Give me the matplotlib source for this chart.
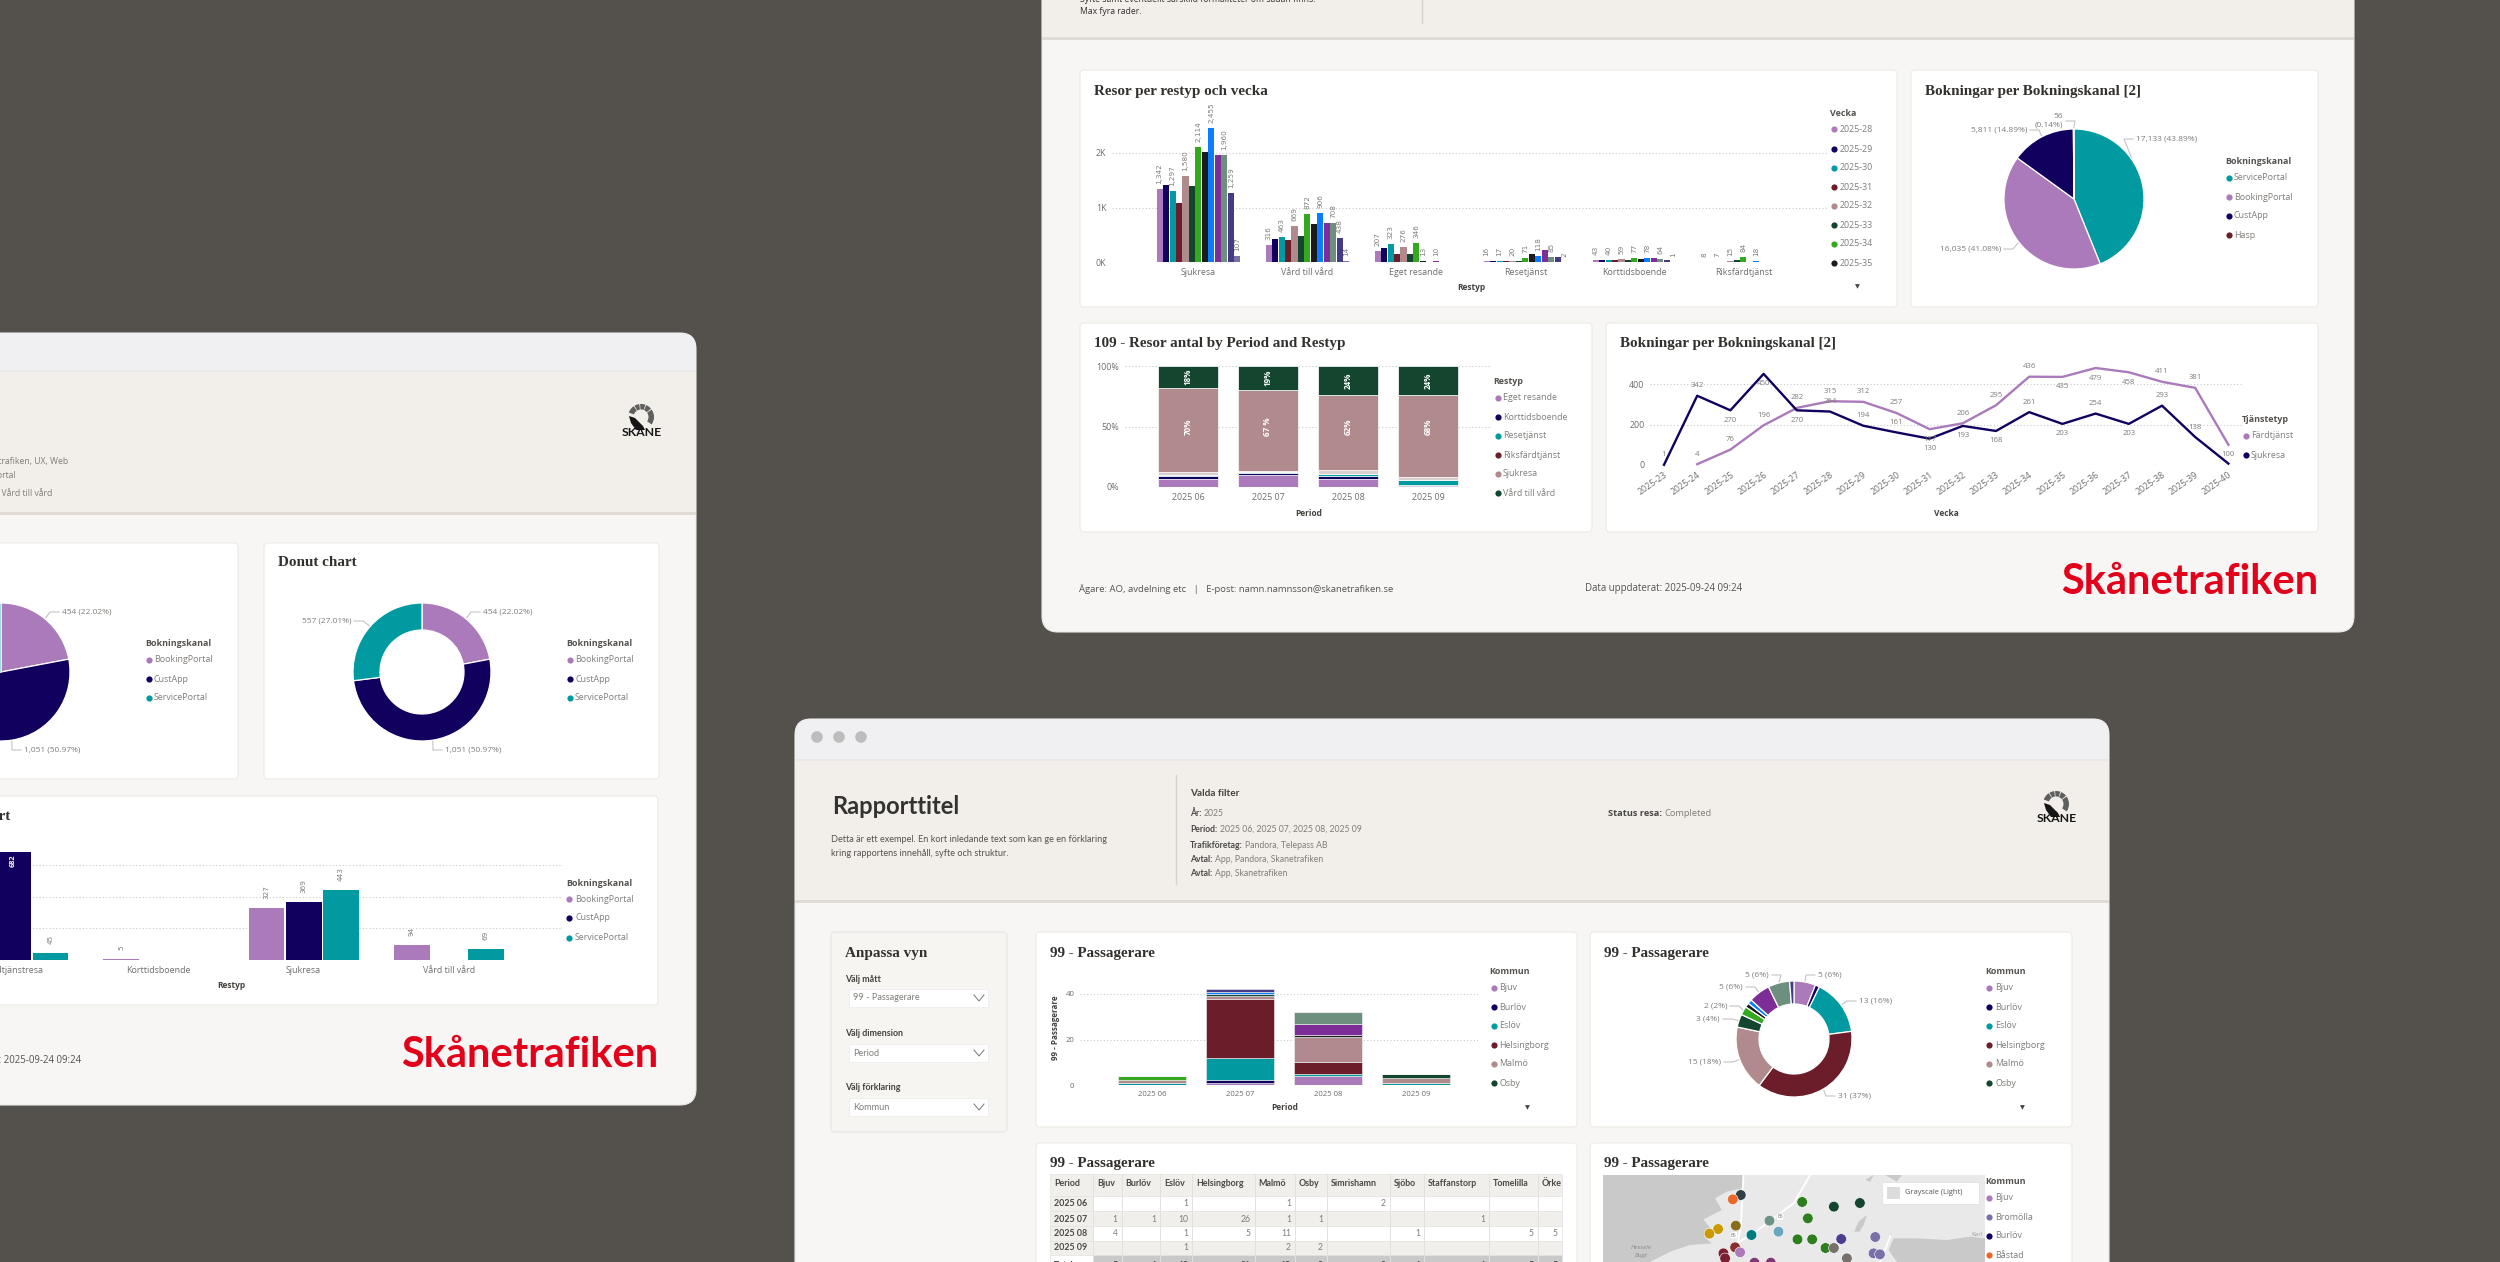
# Skånetrafiken report mockups, three windows on a dark background

import matplotlib
matplotlib.use('Agg')
import numpy as np
import matplotlib.pyplot as plt
from matplotlib.patches import FancyBboxPatch, Rectangle, Wedge, Polygon, Circle

plt.rcParams['font.family'] = ['Open Sans', 'DejaVu Sans']

W, H = 2500, 1262

# palette used by the report
PURPLE = '#ab7abb'
NAVY = '#12005e'
TEAL = '#009aa0'
MAROON = '#6b1d2a'
MAUVE = '#b08a8c'
DGREEN = '#14452f'
GREEN = '#34a91f'
BLACK = '#1b1b1b'
BLUE = '#0a7cff'
VIOLET = '#7d2e96'
SAGE = '#6f8f7e'
INDIGO = '#463a85'
SLATE = '#7a70a8'
ORANGE = '#e8692a'
week_colors = [PURPLE, NAVY, TEAL, MAROON, MAUVE, DGREEN, GREEN, BLACK, BLUE, VIOLET, SAGE, INDIGO, SLATE]

# grouped bars, top window
restyp = ['Sjukresa', 'Vård till vård', 'Eget resande', 'Resetjänst', 'Korttidsboende', 'Riksfärdtjänst']
weeks_shown = ['2025-28', '2025-29', '2025-30', '2025-31', '2025-32', '2025-33', '2025-34', '2025-35']
sjukresa = [1342, 1420, 1297, 1080, 1580, 1400, 2114, 2010, 2455, 1962, 1960, 1259, 107]
vard = [316, 430, 463, 395, 669, 480, 872, 690, 906, 708, 708, 438, 14]
eget = [207, 250, 323, 155, 276, 140, 346, 13, 8, 10, 4, 0, 0]
reset = [16, 14, 17, 12, 20, 10, 71, 150, 118, 220, 85, 100, 2]
kort = [43, 45, 40, 30, 59, 40, 77, 60, 78, 70, 64, 35, 1]
riks = [8, 6, 7, 5, 15, 40, 84, 3, 18, 2, 0, 0, 0]
week_values = [sjukresa, vard, eget, reset, kort, riks]
# which bars carry a value label in the original
labelled = [[0, 2, 4, 6, 8, 10, 11, 12], [0, 2, 4, 6, 8, 10, 11, 12], [0, 2, 4, 6, 7, 9],
            [0, 2, 4, 6, 8, 10, 12], [0, 2, 4, 6, 8, 10, 12], [0, 2, 4, 6, 8]]

# pie, top window
channel_a = ['ServicePortal', 'BookingPortal', 'CustApp', 'Hasp']
channel_a_vals = [17133, 16035, 5811, 56]
channel_a_cols = [TEAL, PURPLE, NAVY, MAROON]

# 100% stacked bars, top window
periods = ['2025 06', '2025 07', '2025 08', '2025 09']
stack_names = ['Eget resande', 'Korttidsboende', 'Resetjänst', 'Riksfärdtjänst', 'Sjukresa', 'Vård till vård']
stack_legend = [PURPLE, NAVY, TEAL, MAROON, MAUVE, DGREEN]
stack_bar_cols = [PURPLE, NAVY, TEAL, '#d8cfce', MAUVE, DGREEN]
st_eget = [7, 10, 7, 1]
st_kort = [2, 1.5, 2, 1]
st_reset = [1, 0.5, 2, 4]
st_riks = [2, 1, 3, 2]
st_sjuk = [70, 67, 62, 68]
st_vard = [18, 20, 24, 24]
stack_vals = [st_eget, st_kort, st_reset, st_riks, st_sjuk, st_vard]
stack_big = ['70%', '67 %', '62%', '68%']
stack_top = ['18%', '19%', '24%', '24%']

# line chart, top window
line_weeks = ['2025-23', '2025-24', '2025-25', '2025-26', '2025-27', '2025-28', '2025-29', '2025-30', '2025-31',
              '2025-32', '2025-33', '2025-34', '2025-35', '2025-36', '2025-37', '2025-38', '2025-39', '2025-40']
sjuk_line = [1, 342, 270, 450, 270, 264, 194, 161, 130, 193, 168, 261, 203, 254, 203, 293, 138, 7]
fard_line = [np.nan, 4, 76, 196, 282, 315, 312, 257, 177, 206, 295, 436, 435, 479, 458, 411, 381, 100]
# +1 label above the point, -1 below, 0 no label
sjuk_side = [1, 1, -1, -1, -1, 1, 1, 1, -1, -1, -1, 1, -1, 1, -1, 1, 1, 0]
fard_side = [0, 1, 1, 1, 1, 1, 1, 1, -1, 1, 1, 1, -1, -1, -1, 1, 1, -1]

# left window
channel_b = ['BookingPortal', 'CustApp', 'ServicePortal']
channel_b_vals = [454, 1051, 557]
channel_b_cols = [PURPLE, NAVY, TEAL]
bar_types = ['Färdtjänstresa', 'Korttidsboende', 'Sjukresa', 'Vård till vård']
bar_booking = [240, 5, 327, 94]
bar_cust = [682, 0, 369, 0]
bar_service = [45, 0, 443, 69]

# bottom window
kommun = ['Bjuv', 'Burlöv', 'Eslöv', 'Helsingborg', 'Malmö', 'Osby', 'Simrishamn', 'Sjöbo', 'Staffanstorp',
          'Tomelilla', 'Örkelljunga', 'Östra Göinge']
kommun_cols = week_colors[:12]
p_0625 = [0, 0, 1, 0, 1, 0, 2, 0, 0, 0, 0, 0]
p_0725 = [1, 1, 10, 26, 1, 1, 0, 0, 1, 0, 0, 1]
p_0825 = [4, 0, 1, 5, 11, 0, 0, 1, 0, 5, 5, 0]
p_0925 = [0, 0, 1, 0, 2, 2, 0, 0, 0, 0, 0, 0]
pass_rows = [p_0625, p_0725, p_0825, p_0925]
pass_total = [5, 1, 13, 31, 15, 3, 2, 1, 1, 5, 5, 1]

table_cols = ['Period', 'Bjuv', 'Burlöv', 'Eslöv', 'Helsingborg', 'Malmö', 'Osby', 'Simrishamn', 'Sjöbo',
              'Staffanstorp', 'Tomelilla', 'Örke']

# map points, read in map units
map_x = [482, 458, 666, 761, 839, 683, 568, 595, 467, 414, 388, 514, 652, 696, 783, 885, 736, 761, 880, 899,
         800, 465, 480, 430, 435, 523, 572]
map_y = [195, 208, 216, 230, 219, 265, 272, 305, 287, 297, 311, 315, 328, 328, 327, 321, 354, 354, 370, 373,
         385, 352, 367, 370, 385, 398, 398]
map_c = ['#2f3f45', ORANGE, '#2e7d1e', DGREEN, DGREEN, '#2e7d1e', '#6f9288', '#6aa6c0', '#8a6d1a', '#c89a00',
         '#c89a00', '#007c80', '#2e7d1e', '#2e7d1e', '#4e3c8f', SLATE, '#2e7d1e', '#77706a', SLATE, SLATE,
         '#77706a', '#8a2f2f', PURPLE, '#7a1f2d', '#7a1f2d', '#7d3a6f', '#7d3a6f']

BG = '#54504c'
BODY = '#f7f6f4'
HEAD = '#f2efea'
CHROME = '#f0f0f3'
INK = '#33312e'
GREY = '#807d7a'
TICK = '#6f6d6b'
RED = '#e2001a'
LATO = ['Lato', 'DejaVu Sans']

fig = plt.figure(figsize=(W / 100, H / 100), dpi=100, facecolor=BG)
bg = fig.add_axes([0, 0, 1, 1])
bg.set_xlim(0, W)
bg.set_ylim(H, 0)
bg.axis('off')


def sub_axes(x0, y0, x1, y1):
    ax = fig.add_axes([x0 / W, 1 - y1 / H, (x1 - x0) / W, (y1 - y0) / H])
    ax.patch.set_alpha(0)
    return ax


def label(x, y, s, size=6.4, color=GREY, ha='left', va='center', weight='normal', **kw):
    return bg.text(x, y, s, fontsize=size, color=color, ha=ha, va=va, fontweight=weight, **kw)


def title(x, y, s, ha='left', size=10.9):
    return bg.text(x, y, s, fontsize=size, color=INK, ha=ha, va='center', fontweight='bold',
                   family=['Liberation Serif', 'DejaVu Serif'])


def window(x0, y0, x1, y1, chrome_y, head_y):
    win = FancyBboxPatch((x0, y0), x1 - x0, y1 - y0, boxstyle='round,pad=0,rounding_size=16',
                         fc=BODY, ec='#e8e8e6', lw=0.8)
    bg.add_patch(win)
    top = Rectangle((x0, y0), x1 - x0, chrome_y - y0, fc=CHROME, ec='none')
    bg.add_patch(top)
    top.set_clip_path(win)
    head = Rectangle((x0, chrome_y), x1 - x0, head_y - chrome_y, fc=HEAD, ec='none')
    bg.add_patch(head)
    head.set_clip_path(win)
    rule = Rectangle((x0, head_y - 1), x1 - x0, 3, fc='#e0dcd5', ec='none')
    bg.add_patch(rule)
    rule.set_clip_path(win)
    line = Rectangle((x0, chrome_y - 1), x1 - x0, 2, fc='#e9e8e6', ec='none')
    bg.add_patch(line)
    line.set_clip_path(win)


def card(x0, y0, x1, y1, color='white', edge='#eeede9'):
    bg.add_patch(FancyBboxPatch((x0, y0), x1 - x0, y1 - y0, boxstyle='round,pad=0,rounding_size=4',
                                fc=color, ec=edge, lw=1.0))


def legend(head, names, cols, tx, mx, lx, ys):
    label(tx, ys[0] - 16, head, size=6.4, color='#55524f', weight='bold')
    for name, col, y in zip(names, cols, ys):
        bg.scatter([mx], [y], s=20, color=col, linewidths=0, zorder=3)
        label(lx, y, name, size=6.4, color=GREY)


def style_axes(ax):
    for s in ax.spines.values():
        s.set_visible(False)
    ax.tick_params(length=0, labelsize=6.4, labelcolor=TICK, pad=4)
    ax.yaxis.grid(True, linestyle=(0, (1, 2)), color='#c9c9c9', lw=0.8)
    ax.set_axisbelow(True)


def skane_logo(cx, cy, ty):
    # ring of grey segments, black hand, word below
    for a0, a1 in [(200, 236), (240, 262), (266, 290), (294, 320), (325, 395)]:
        bg.add_patch(Wedge((cx, cy), 13, a0, a1, width=5.5, fc='#5f5f5f', ec='none'))
    bg.add_patch(Polygon([(cx - 12, cy - 1), (cx - 6, cy + 1), (cx + 2, cy + 9), (cx + 4, cy + 13),
                          (cx - 5, cy + 13), (cx - 10, cy + 6)], fc='#151515', ec='none'))
    label(cx + 0.5, ty, 'SKÅNE', size=8.8, color='#151515', ha='center', weight='bold', family=LATO)


def leader(ax_cx, ax_cy, r, wedge, tx, ty, side):
    mid = np.radians((wedge.theta1 + wedge.theta2) / 2)
    ex = ax_cx + r * np.cos(mid)
    ey = ax_cy - r * np.sin(mid)
    bg.plot([ex, tx - side * 12, tx - side * 3], [ey, ty, ty], color='#c4c4c4', lw=0.8, zorder=2)


def pie_chart(cx, cy, r, vals, cols, texts, spots, inner=None):
    ax = sub_axes(cx - r, cy - r, cx + r, cy + r)
    props = dict(edgecolor='white', linewidth=0.9)
    if inner:
        props['width'] = 1 - inner / r
    wedges, _ = ax.pie(vals, colors=cols, startangle=90, counterclock=False, wedgeprops=props)
    ax.set_xlim(-1, 1)
    ax.set_ylim(-1, 1)
    for wedge, s, spot in zip(wedges, texts, spots):
        if spot is None:
            continue
        tx, ty, side = spot
        label(tx, ty, s, size=6.0, ha='left' if side > 0 else 'right', color=GREY)
        leader(cx, cy, r, wedge, tx, ty, side)


def pair(x, y, a, b, size=6.2, family=None):
    t = label(x, y, a, size=size, color='#4a4845', weight='bold', family=family)
    box = t.get_window_extent(fig.canvas.get_renderer())
    label(x + box.width + 2.5, y, b, size=size, color=GREY, family=family)


def dropdown(x0, y0, x1, y1, s):
    bg.add_patch(Rectangle((x0, y0), x1 - x0, y1 - y0, fc='white', ec='#efeeeb', lw=0.6))
    label(x0 + 4, (y0 + y1) / 2, s, size=6.6, color=GREY, family=LATO)
    m = (y0 + y1) / 2
    bg.plot([x1 - 14, x1 - 9, x1 - 4], [m - 3, m + 3, m - 3], color='#777777', lw=0.7)


def footer(x, y, s, size=6.8, **kw):
    label(x, y, s, size=size, color='#55524f', **kw)


def wordmark(x1, y):
    return label(x1, y, 'Skånetrafiken', size=30, color=RED, ha='right', weight='bold', family=LATO)


# ---------- top window ----------
window(1042, -200, 2354, 632, -150, 38)
label(1080, -1, 'Syfte samt eventuellt särskild formaliteter om sådan finns.', size=6.2, color=INK)
label(1080, 12, 'Max fyra rader.', size=6.2, color=INK)
bg.plot([1422, 1422], [-5, 23], color='#d7d3cc', lw=1)

card(1080, 70, 1897, 307)
card(1911, 70, 2318, 307)
card(1080, 323, 1592, 532)
card(1606, 323, 2318, 532)

# grouped bars
title(1094, 91, 'Resor per restyp och vecka')
ax = sub_axes(1112, 105, 1829, 262)
style_axes(ax)
group_px = 109.0
bar_w = 6.46 / group_px
for g, vals in enumerate(week_values):
    for i, v in enumerate(vals):
        xb = g + (i - 6) * bar_w
        ax.bar(xb, v, bar_w * 0.94, color=week_colors[i], clip_on=False)
        if i in labelled[g]:
            ax.annotate(f'{v:,}', (xb, v), xytext=(0, 5), textcoords='offset pixels', rotation=90,
                        ha='center', va='bottom', fontsize=5.2, color=GREY, annotation_clip=False,
                        family=['DejaVu Sans'])
ax.set_xlim(-86.4 / group_px, (1829 - 1198.4) / group_px)
ax.set_ylim(0, 157 / 54.5 * 1000)
ax.set_yticks([0, 1000, 2000], ['0K', '1K', '2K'])
ax.set_xticks(range(6), restyp)
label(1471, 287, 'Restyp', size=6.0, color='#45423f', ha='center', weight='bold')
label(1857, 287, '▼', size=4.6, color='#444444', ha='center')
legend('Vecka', weeks_shown, week_colors[:8], 1830, 1834, 1840, [129, 149, 168, 187, 206, 225, 244, 263])

# pie
title(1925, 91, 'Bokningar per Bokningskanal [2]')
pie_chart(2074, 199, 70, channel_a_vals, channel_a_cols,
          ['17,133 (43.89%)', '16,035 (41.08%)', '5,811 (14.89%)', '56\n(0.14%)'],
          [(2136, 139, 1), (2001, 249, -1), (2027, 130, -1), (2063, 121, -1)])
legend('Bokningskanal', channel_a, channel_a_cols, 2225, 2229, 2234, [178, 197, 216, 235])

# 100% stacked
title(1094, 343, '109 - Resor antal by Period and Restyp')
ax = sub_axes(1125, 366, 1492, 487)
style_axes(ax)
xs = np.arange(4)
bottom = np.zeros(4)
for vals, col in zip(stack_vals, stack_bar_cols):
    ax.bar(xs, vals, 0.75, bottom=bottom, color=col, edgecolor='white', linewidth=0.5)
    bottom = bottom + np.array(vals)
ax.set_xlim(-63 / 80, (1492 - 1188) / 80)
ax.set_ylim(0, 100)
ax.set_yticks([0, 50, 100], ['0%', '50%', '100%'])
ax.set_xticks(xs, periods)
for i in xs:
    ax.text(i, 50, stack_big[i], rotation=90, color='white', fontsize=5.8, ha='center', va='center',
            fontweight='bold')
    ax.text(i, 100 - st_vard[i] / 2, stack_top[i], rotation=90, color='white', fontsize=5.8, ha='center',
            va='center', fontweight='bold')
label(1309, 513, 'Period', size=6.0, color='#45423f', ha='center', weight='bold')
legend('Restyp', stack_names, stack_legend, 1493, 1498, 1503, [398, 417, 436, 455, 474, 493])

# line chart
title(1620, 343, 'Bokningar per Bokningskanal [2]')
ax = sub_axes(1650, 365, 2242, 465)
style_axes(ax)
xs = np.arange(len(line_weeks))
ax.plot(xs, fard_line, color=PURPLE, lw=1.7, clip_on=False, solid_joinstyle='round')
ax.plot(xs, sjuk_line, color=NAVY, lw=1.7, clip_on=False, solid_joinstyle='round')
for vals, side in [(sjuk_line, sjuk_side), (fard_line, fard_side)]:
    for x, v, s in zip(xs, vals, side):
        if s:
            ax.annotate(f'{v:.0f}', (x, v), xytext=(0, s * 10), textcoords='offset pixels', ha='center',
                        va='center', fontsize=5.6, color=GREY, annotation_clip=False)
ax.set_xlim(-14 / 33.2, (2242 - 1664) / 33.2)
ax.set_ylim(0, 100 / 0.2025)
ax.set_yticks([0, 200, 400])
ax.set_xticks(xs, line_weeks, rotation=35, ha='right', rotation_mode='anchor')
label(1946, 513, 'Vecka', size=6.0, color='#45423f', ha='center', weight='bold')
legend('Tjänstetyp', ['Färdtjänst', 'Sjukresa'], [PURPLE, NAVY], 2242, 2246, 2251, [436, 455])

footer(1079, 589, 'Ägare: AO, avdelning etc   |   E-post: namn.namnsson@skanetrafiken.se')
footer(1585, 588, 'Data uppdaterat: 2025-09-24 09:24', size=6.9)
wordmark(2318, 582)

# ---------- left window ----------
window(-600, 333, 696, 1105, 371, 513)
skane_logo(641, 417, 432)
label(68, 461, 'Avtal: App, Skanetrafiken, UX, Web', size=6.2, ha='right')
label(16, 476, 'Bokningskanal: Portal', size=6.2, ha='right')
label(52, 493, 'Restyp: Sjukresa, Vård till vård', size=6.2, ha='right')

card(-200, 543, 238, 779)
card(264, 543, 659, 779)
card(-200, 796, 658, 1005)

pie_chart(1, 672, 69, channel_b_vals, channel_b_cols,
          ['454 (22.02%)', '1,051 (50.97%)', ''],
          [(62, 612, 1), (24, 750, 1), None])
legend('Bokningskanal', channel_b, channel_b_cols, 145, 149, 154, [660, 679, 698])

title(278, 563, 'Donut chart')
pie_chart(422, 672, 69, channel_b_vals, channel_b_cols,
          ['454 (22.02%)', '1,051 (50.97%)', '557 (27.01%)'],
          [(483, 612, 1), (445, 750, 1), (351, 621, -1)], inner=42)
legend('Bokningskanal', channel_b, channel_b_cols, 566, 570, 575, [660, 679, 698])

title(10, 816, 'Bar chart', ha='right')
ax = sub_axes(-60, 855, 563, 960)
style_axes(ax)
group_w = 145.1
bw = 37.1 / group_w
xs = np.arange(4)
for off, vals, col in [(-1, bar_booking, PURPLE), (0, bar_cust, NAVY), (1, bar_service, TEAL)]:
    ax.bar(xs + off * bw, vals, bw * 0.97, color=col, clip_on=False)
    for x, v in zip(xs, vals):
        if v == 0:
            continue
        if v > 600:
            ax.text(x + off * bw, v - 14, f'{v}', rotation=90, color='white', fontsize=5.2, ha='center',
                    va='top', fontweight='bold', clip_on=False)
        else:
            ax.annotate(f'{v}', (x + off * bw, v), xytext=(0, 9), textcoords='offset pixels', rotation=90,
                        ha='center', va='bottom', fontsize=5.2, color=GREY, annotation_clip=False,
                        family=['DejaVu Sans'])
ax.set_xlim((-60 - 13.4) / group_w, (563 - 13.4) / group_w)
ax.set_ylim(0, 105 / 31.7 * 200)
ax.set_yticks([0, 200, 400, 600], ['', '', '', ''])
ax.set_xticks(xs, bar_types)
label(231, 986, 'Restyp', size=6.0, color='#45423f', ha='center', weight='bold')
legend('Bokningskanal', channel_b, channel_b_cols, 566, 569, 575, [899, 918, 938])
footer(81, 1061, 'Data uppdaterat: 2025-09-24 09:24', size=6.9, ha='right')
wordmark(658, 1055)

# ---------- bottom window ----------
window(795, 719, 2109, 1600, 760, 901)
for x in [817, 839, 861]:
    bg.add_patch(Circle((x, 737), 5.8, fc='#bdbdbd', ec='none'))
label(832, 807, 'Rapporttitel', size=17, color='#33322f', weight='bold', family=LATO)
label(831, 840, 'Detta är ett exempel. En kort inledande text som kan ge en förklaring', size=6.6, color='#55524f',
      family=LATO)
label(831, 853, 'kring rapportens innehåll, syfte och struktur.', size=6.6, color='#55524f', family=LATO)
bg.plot([1176, 1176], [775, 884], color='#d7d3cc', lw=1)
label(1190, 793, 'Valda filter', size=7.2, color='#45423f', weight='bold', family=LATO)
pair(1190, 814, 'År:', '2025', family=LATO)
pair(1190, 829, 'Period:', '2025 06, 2025 07, 2025 08, 2025 09', family=LATO)
pair(1190, 845, 'Trafikföretag:', 'Pandora, Telepass AB', family=LATO)
pair(1190, 859, 'Avtal:', 'App, Pandora, Skanetrafiken', family=LATO)
pair(1190, 874, 'Avtal:', 'App, Skanetrafiken', family=LATO)
pair(1608, 813, 'Status resa:', 'Completed', size=6.7)
skane_logo(2056, 804, 819)

# side panel
card(831, 932, 1007, 1132, color='#f6f5f2', edge='#e9e8e4')
title(845, 953, 'Anpassa vyn')
for y, s, d, y0 in [(979, 'Välj mått', '99 - Passagerare', 989), (1034, 'Välj dimension', 'Period', 1044),
                    (1088, 'Välj förklaring', 'Kommun', 1098)]:
    label(845, y, s, size=6.4, color='#45423f', weight='bold', family=LATO)
    dropdown(849, y0, 988, y0 + 18, d)

card(1036, 932, 1577, 1127)
card(1590, 932, 2072, 1127)
card(1036, 1143, 1577, 1500)
card(1590, 1143, 2072, 1500)

# passengers stacked bars
title(1050, 953, '99 - Passagerare')
ax = sub_axes(1080, 970, 1478, 1085)
style_axes(ax)
xs = np.arange(4)
bottom = np.zeros(4)
for k, col in enumerate(kommun_cols):
    vals = np.array([row[k] for row in pass_rows])
    ax.bar(xs, vals, 0.767, bottom=bottom, color=col, edgecolor='#f4f4f4', linewidth=0.4)
    bottom = bottom + vals
ax.set_xlim(-72 / 88, (1478 - 1152) / 88)
ax.set_ylim(0, 115 / 45.5 * 20)
ax.set_yticks([0, 20, 40])
ax.set_xticks(xs, periods)
ax.tick_params(labelsize=5.6)
label(1056, 1028, '99 - Passagerare', size=5.8, color='#45423f', ha='center', rotation=90, weight='bold')
label(1285, 1108, 'Period', size=6.0, color='#45423f', ha='center', weight='bold')
label(1527, 1108, '▼', size=4.6, color='#444444', ha='center')
kom_y = [988, 1007, 1026, 1045, 1064, 1083]
legend('Kommun', kommun[:6], kommun_cols[:6], 1489, 1494, 1499, kom_y)

# passengers donut
title(1604, 953, '99 - Passagerare')
pie_chart(1794, 1039, 58, pass_total, kommun_cols,
          ['5 (6%)', '', '13 (16%)', '31 (37%)', '15 (18%)', '3 (4%)', '2 (2%)', '', '', '5 (6%)', '5 (6%)', ''],
          [(1818, 975, 1), None, (1859, 1001, 1), (1838, 1096, 1), (1721, 1062, -1), (1720, 1019, -1),
           (1727, 1006, -1), None, None, (1743, 987, -1), (1769, 975, -1), None], inner=35)
legend('Kommun', kommun[:6], kommun_cols[:6], 1985, 1989, 1995, kom_y)
label(2022, 1108, '▼', size=4.6, color='#444444', ha='center')

# table
title(1050, 1163, '99 - Passagerare')
edges = [1050, 1093, 1121.5, 1160, 1192, 1254.5, 1295, 1327, 1390, 1424, 1489, 1538, 1562]
row_y = [1174, 1196, 1211, 1226, 1241, 1255, 1270]
rows = pass_rows
for r in range(6):
    y0, y1 = row_y[r], row_y[r + 1]
    shade = '#f1efec' if r in (0, 2, 4) else 'white'
    if r == 5:
        shade = '#c9c9c9'
    bg.add_patch(Rectangle((edges[0], y0), edges[-1] - edges[0], y1 - y0, fc=shade, ec='#e6e4e0', lw=0.5))
    if r in (1, 3):
        bg.add_patch(Rectangle((edges[0], y0), edges[1] - edges[0], y1 - y0, fc='#f1efec', ec='#e6e4e0', lw=0.5))
    if r == 5:
        bg.add_patch(Rectangle((edges[0], y0), edges[1] - edges[0], y1 - y0, fc='white', ec='#e6e4e0', lw=0.5))
for e in edges[1:-1]:
    bg.plot([e, e], [1174, 1262], color='#e3e1dd', lw=0.7)
for e, s in zip(edges, table_cols):
    label(e + 4, 1184, s, size=6.4, color='#4a4845', weight='bold', family=LATO)
for p, r, y in zip(periods, rows, [1204, 1219, 1234, 1248]):
    label(1054, y, p, size=6.4, color='#4a4845', weight='bold', family=LATO)
    for e, v in zip(edges[2:], r):
        if v:
            label(e - 4, y, str(v), size=6.2, color=GREY, ha='right', family=LATO)
label(1054, 1265, 'Total', size=6.2, color='#4a4845', weight='bold', family=LATO)
for e, v in zip(edges[2:], pass_total):
    label(e - 4, 1265, str(v), size=6.2, color='#4a4845', ha='right', weight='bold', family=LATO)

# map
title(1604, 1163, '99 - Passagerare')
mp = sub_axes(1603, 1175, 1985, 1262)
mp.set_xlim(69, 1214)
mp.set_ylim(396, 135)
mp.axis('off')
mp.add_patch(Rectangle((69, 135), 1145, 261, fc='#e9e9e9', ec='none'))
SEA = '#c9c9c9'
mp.add_patch(Polygon([(69, 135), (490, 135), (485, 175), (440, 185), (405, 205), (425, 240), (370, 268),
                      (395, 300), (372, 320), (395, 340), (330, 345), (270, 365), (210, 396), (69, 396)],
                     fc=SEA, ec='none'))
mp.add_patch(Polygon([(940, 325), (1010, 325), (1100, 330), (1170, 320), (1214, 325), (1214, 396), (950, 396),
                      (925, 360)], fc=SEA, ec='none'))
mp.add_patch(Polygon([(822, 305), (835, 275), (860, 255), (850, 285), (838, 305)], fc=SEA, ec='none'))
mp.add_patch(Polygon([(855, 150), (880, 135), (870, 155)], fc=SEA, ec='none'))
mp.add_patch(Polygon([(915, 135), (965, 135), (950, 155)], fc=SEA, ec='none'))
mp.plot([490, 482, 470], [135, 290, 350], color='white', lw=1.3)
mp.plot([690, 640, 520, 470], [135, 220, 310, 340], color='white', lw=1.3)
mp.plot([930, 900], [320, 396], color='white', lw=1.3)
mp.text(182, 352, 'Hessele', fontsize=4.6, style='italic', color='#8a8a8a', ha='center', va='center')
mp.text(182, 378, 'Bugt', fontsize=4.6, style='italic', color='#8a8a8a', ha='center', va='center')
mp.text(1190, 315, 'Karl', fontsize=4.6, color='#a0a0a0', ha='center', va='center')
for x, y in [(600, 260), (461, 316)]:
    mp.text(x, y, 'E6', fontsize=3.6, color='#777777', ha='center', va='center',
            bbox=dict(boxstyle='round,pad=0.2', fc='white', ec='#dddddd', lw=0.4))
mp.scatter(map_x, map_y, s=58, c=map_c, edgecolors='white', linewidths=0.4, zorder=3, clip_on=True)
# map style tooltip sits above the points
mp.add_patch(Rectangle((905, 157), 290, 65, fc='white', ec='#e2e2e2', lw=0.6, zorder=5))
mp.add_patch(Rectangle((920, 172), 38, 36, fc='#dcdcdc', ec='none', zorder=6))
mp.text(973, 188, 'Grayscale (Light)', fontsize=5.4, color='#555555', va='center', zorder=6)
legend('Kommun', ['Bjuv', 'Bromölla', 'Burlöv', 'Båstad'], [PURPLE, SLATE, NAVY, ORANGE], 1985, 1989, 1995,
       [1198, 1217, 1236, 1255])

fig.savefig('out.png', dpi=100, facecolor=BG)
